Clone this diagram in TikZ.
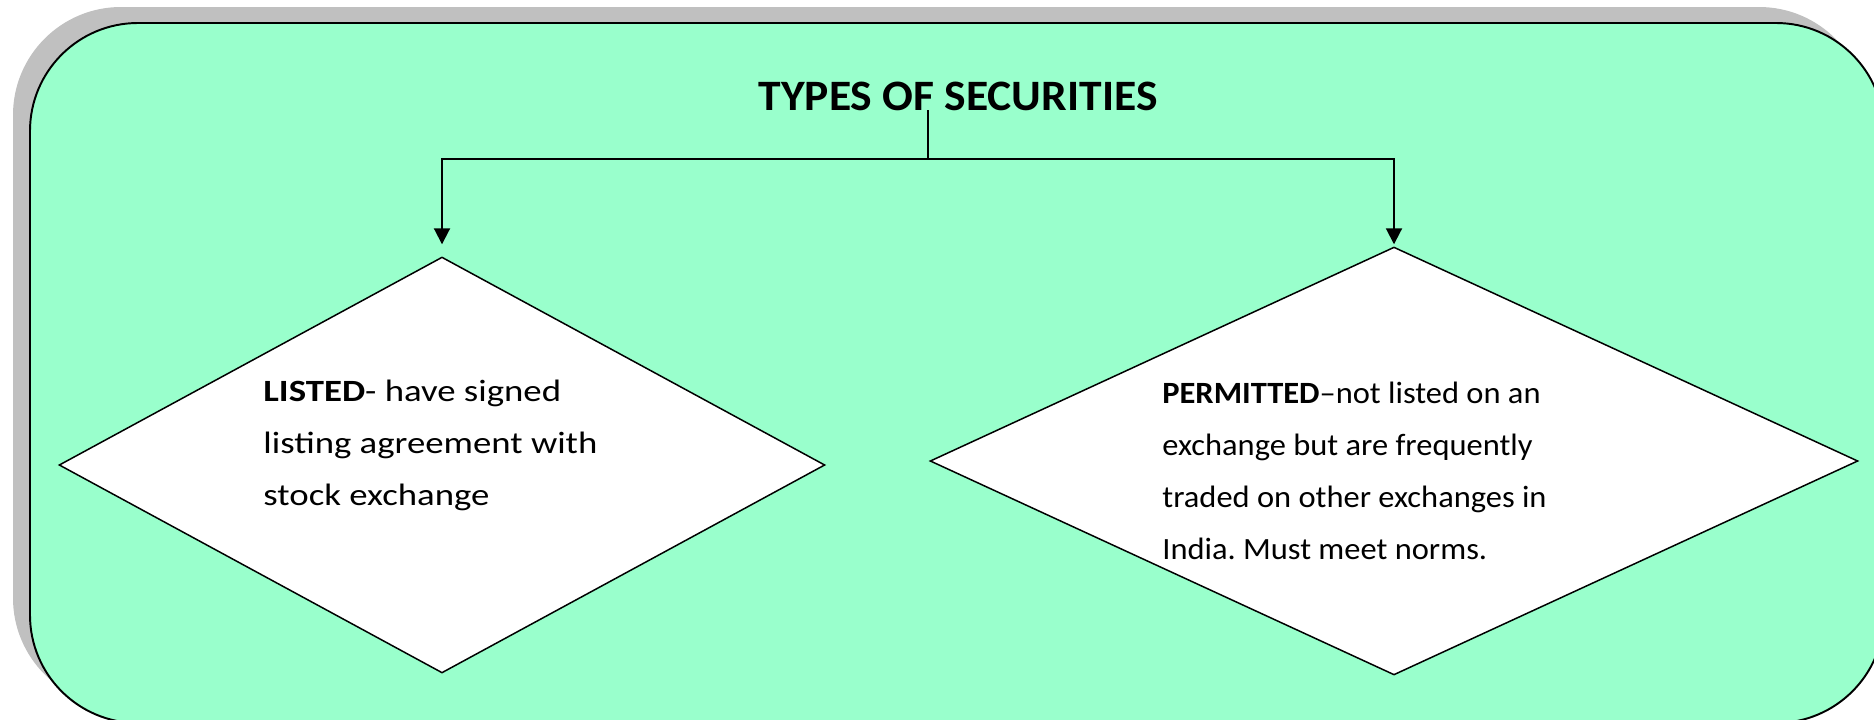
\documentclass[tikz,border=0pt]{standalone}
\usepackage{fontspec}
\setmainfont{Carlito}
\usetikzlibrary{shapes.geometric,arrows.meta}
\definecolor{panelgreen}{HTML}{99FFCC}
\definecolor{shadowgray}{HTML}{C0C0C0}
\frenchspacing

\begin{document}
\begin{tikzpicture}[
        x=0.02cm, y=-0.02cm,
        panel/.style={draw=black, line width=1.1pt, fill=panelgreen, rounded corners=2.16cm},
        shade/.style={fill=shadowgray, rounded corners=2.16cm},
        choice/.style={diamond, draw=black, line width=0.85pt, fill=white, inner sep=0pt},
        desc/.style={font=\fontsize{17.6pt}{29.6pt}\selectfont, align=left, inner sep=0pt, transform shape},
        heading/.style={font=\fontsize{24.7pt}{30pt}\selectfont\bfseries, inner sep=0pt, xscale=1.05, transform shape},
        link/.style={line width=1.1pt},
        tip/.style={-{Triangle[width=0.32cm, length=0.32cm]}},
    ]
        \clip (0,0) rectangle (1874,720);

        % background panel with its shadow
        \fill[shade] (13,7) rectangle (1867,706);
        \filldraw[panel] (30,23) rectangle (1884,723);

        \node[heading, anchor=base] (title) at (958,110) {TYPES OF SECURITIES};

        \node[choice, minimum width=15.32cm, minimum height=8.32cm] (listed) at (442,465) {};
        \node[choice, minimum width=18.56cm, minimum height=8.56cm] (permitted) at (1394,461) {};

        \node[desc, xscale=1.19, anchor=north west] (listedtxt) at (263,380) {%
            \textbf{LISTED}- have signed\\
            listing agreement with\\
            stock exchange};
        \node[desc, xscale=1.05, anchor=north west] (permittedtxt) at (1162,382) {%
            \textbf{PERMITTED}--not listed on an\\
            exchange but are frequently\\
            traded on other exchanges in\\
            India. Must meet norms.};

        \coordinate (split) at (928,159);
        \draw[link] (title.base -| split) -- (split);
        \draw[link, tip, shorten >=0.24cm] (split) -| (listed.north);
        \draw[link, tip, shorten >=0.04cm] (split) -| (permitted.north);
    \end{tikzpicture}
\end{document}
